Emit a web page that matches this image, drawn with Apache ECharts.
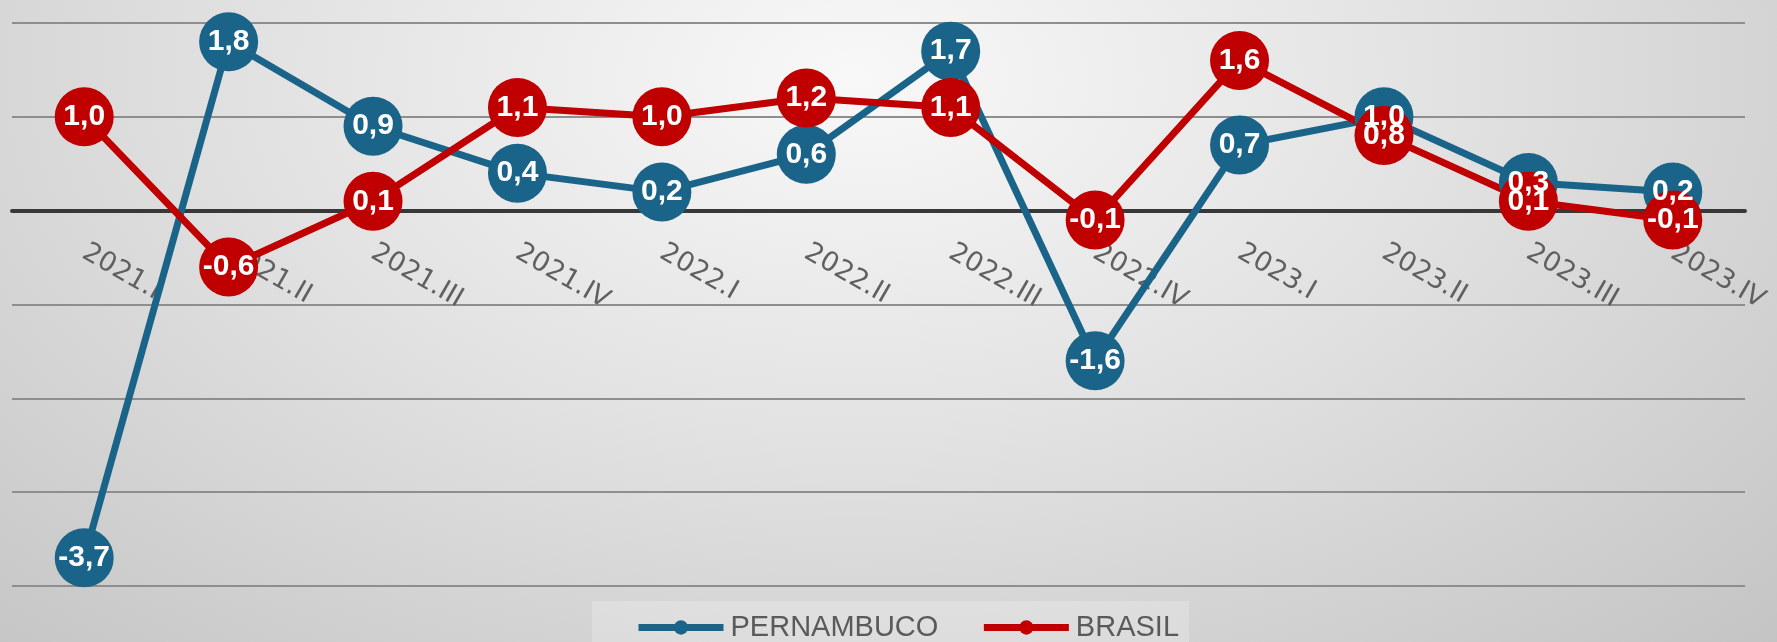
<!DOCTYPE html>
<html>
<head>
<meta charset="utf-8">
<script src="https://cdn.jsdelivr.net/npm/echarts@6/dist/echarts.min.js"></script>
<style>
  html, body { margin: 0; padding: 0; }
  #chart {
    width: 1777px;
    height: 642px;
    background: radial-gradient(ellipse at 48% 12%, #f8f8f8 0%, #e2e2e2 45%, #c4c4c4 100%);
  }
</style>
</head>
<body>
<div id="chart"></div>
<script>
// trimestres
const categories = ['2021.I', '2021.II', '2021.III', '2021.IV', '2022.I', '2022.II',
  '2022.III', '2022.IV', '2023.I', '2023.II', '2023.III', '2023.IV'];
const pernambuco = [-3.7, 1.8, 0.9, 0.4, 0.2, 0.6, 1.7, -1.6, 0.7, 1.0, 0.3, 0.2];
const brasil = [1.0, -0.6, 0.1, 1.1, 1.0, 1.2, 1.1, -0.1, 1.6, 0.8, 0.1, -0.1];

const BLUE = '#1b6489';
const RED = '#c00000';

const chart = echarts.init(document.getElementById('chart'));

function makeSeries(name, data, color) {
  return {
    name: name,
    type: 'line',
    data: data,
    symbol: 'circle',
    symbolSize: 59,
    lineStyle: { color: color, width: 7 },
    itemStyle: { color: color },
    label: {
      show: true,
      position: 'inside',
      color: '#ffffff',
      fontFamily: 'Liberation Sans',
      fontWeight: 'bold',
      fontSize: 30,
      formatter: (p) => p.value.toFixed(1).replace('.', ',')
    },
    emphasis: { disabled: true },
    animation: false
  };
}

const option = {
  backgroundColor: 'transparent',
  grid: { left: 12, right: 32, top: 23, bottom: 56, containLabel: false, outerBoundsMode: 'none' },
  legend: {
    data: ['PERNAMBUCO', 'BRASIL'],
    left: 592,
    top: 601,
    padding: [12, 10, 14, 43],
    backgroundColor: 'rgba(255,255,255,0.22)',
    itemWidth: 85,
    itemHeight: 18,
    itemGap: 42,
    lineStyle: { width: 7 },
    textStyle: {
      fontFamily: 'Liberation Sans',
      fontSize: 29,
      color: '#5a5a5a',
      padding: [0, 0, 0, 2]
    }
  },
  xAxis: {
    type: 'category',
    data: categories,
    boundaryGap: true,
    offset: 0,
    axisLine: { onZero: false, lineStyle: { color: '#383838', width: 4 } },
    axisTick: { show: false },
    axisLabel: {
      rotate: -30,
      margin: 40,
      interval: 0,
      fontFamily: 'DejaVu Sans',
      fontSize: 27,
      color: '#606060'
    },
    splitLine: { show: false }
  },
  yAxis: {
    type: 'value',
    min: -4,
    max: 2,
    interval: 1,
    axisLine: { show: false },
    axisTick: { show: false },
    axisLabel: { show: false },
    splitLine: { lineStyle: { color: '#8e8e8e', width: 2 } }
  },
  series: [
    makeSeries('PERNAMBUCO', pernambuco, BLUE),
    makeSeries('BRASIL', brasil, RED)
  ]
};

chart.setOption(option);

// move the category axis (line + labels) up to the zero line
const zeroY = chart.convertToPixel({ yAxisIndex: 0 }, 0);
const bottomY = chart.convertToPixel({ yAxisIndex: 0 }, -4);
chart.setOption({ xAxis: { offset: zeroY - bottomY } });
</script>
</body>
</html>
